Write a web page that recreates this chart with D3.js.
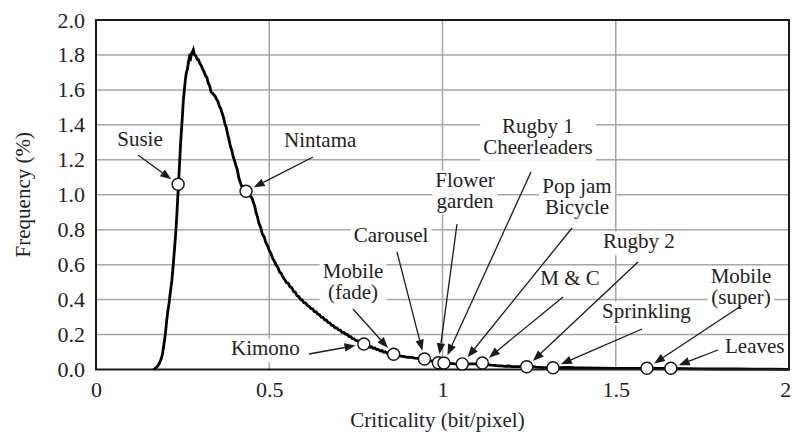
<!DOCTYPE html>
<html>
<head>
<meta charset="utf-8">
<script src="https://cdn.jsdelivr.net/npm/d3@7"></script>
<style>
  html, body { margin: 0; padding: 0; background: #fff; }
  svg { display: block; }
</style>
</head>
<body>
<svg id="chart" width="793" height="436"></svg>
<script>
// Histogram of per-pixel criticality (bit/pixel) versus frequency (%)
const critX = [
  0.166, 0.172, 0.178, 0.183, 0.188, 0.192, 0.195, 0.198, 0.201, 0.204,
  0.207, 0.211, 0.215, 0.219, 0.223, 0.227, 0.230, 0.233, 0.235, 0.237,
  0.238, 0.241, 0.244, 0.247, 0.250, 0.252, 0.255, 0.258, 0.261, 0.264,
  0.267, 0.270, 0.273, 0.276, 0.279, 0.281, 0.284, 0.288, 0.292, 0.296,
  0.300, 0.304, 0.308, 0.312, 0.316, 0.320, 0.324, 0.328, 0.332, 0.336,
  0.340, 0.344, 0.348, 0.352, 0.356, 0.360, 0.364, 0.368, 0.372, 0.376,
  0.380, 0.384, 0.388, 0.392, 0.396, 0.400, 0.404, 0.408, 0.412, 0.416,
  0.420, 0.425, 0.430, 0.434, 0.438, 0.442, 0.446, 0.450, 0.454, 0.458,
  0.462, 0.466, 0.470, 0.475, 0.480, 0.485, 0.490, 0.495, 0.500, 0.505,
  0.510, 0.515, 0.520, 0.525, 0.530, 0.535, 0.540, 0.545, 0.550, 0.555,
  0.560, 0.565, 0.570, 0.575, 0.580, 0.585, 0.590, 0.595, 0.600, 0.605,
  0.610, 0.615, 0.620, 0.625, 0.630, 0.635, 0.640, 0.645, 0.650, 0.655,
  0.660, 0.665, 0.670, 0.675, 0.680, 0.685, 0.690, 0.695, 0.700, 0.705,
  0.710, 0.715, 0.720, 0.725, 0.730, 0.735, 0.740, 0.745, 0.750, 0.755,
  0.760, 0.765, 0.770, 0.775, 0.780, 0.785, 0.790, 0.795, 0.800, 0.805,
  0.810, 0.815, 0.820, 0.825, 0.830, 0.835, 0.840, 0.845, 0.850, 0.855,
  0.860, 0.870, 0.880, 0.890, 0.900, 0.910, 0.920, 0.930, 0.940, 0.950,
  0.960, 0.970, 0.980, 0.990, 1.000, 1.010, 1.020, 1.030, 1.040, 1.050,
  1.060, 1.070, 1.080, 1.090, 1.100, 1.110, 1.120, 1.130, 1.140, 1.150,
  1.160, 1.170, 1.180, 1.190, 1.200, 1.210, 1.220, 1.230, 1.240, 1.250,
  1.260, 1.270, 1.280, 1.290, 1.300, 1.310, 1.320, 1.340, 1.360, 1.380,
  1.400, 1.450, 1.500, 1.550, 1.600, 1.650, 1.700, 1.750, 1.800, 1.850,
  1.900, 1.950, 2.000
];
const freqY = [
  0.000, 0.008, 0.020, 0.035, 0.060, 0.090, 0.130, 0.170, 0.220, 0.280,
  0.330, 0.380, 0.450, 0.510, 0.600, 0.700, 0.780, 0.870, 0.950, 1.020,
  1.060, 1.170, 1.290, 1.380, 1.470, 1.540, 1.600, 1.660, 1.700, 1.720,
  1.760, 1.790, 1.780, 1.810, 1.820, 1.830, 1.800, 1.795, 1.775, 1.772,
  1.750, 1.738, 1.718, 1.703, 1.682, 1.672, 1.638, 1.624, 1.588, 1.582,
  1.572, 1.563, 1.547, 1.533, 1.507, 1.493, 1.466, 1.443, 1.407, 1.384,
  1.346, 1.314, 1.276, 1.254, 1.217, 1.194, 1.166, 1.143, 1.097, 1.074,
  1.050, 1.045, 1.030, 1.020, 1.008, 1.003, 0.990, 0.982, 0.958, 0.935,
  0.897, 0.874, 0.838, 0.815, 0.776, 0.760, 0.727, 0.709, 0.682, 0.664,
  0.636, 0.619, 0.597, 0.584, 0.557, 0.549, 0.527, 0.514, 0.497, 0.493,
  0.472, 0.468, 0.447, 0.443, 0.422, 0.418, 0.402, 0.398, 0.382, 0.380,
  0.367, 0.362, 0.349, 0.347, 0.332, 0.330, 0.317, 0.314, 0.299, 0.298,
  0.284, 0.283, 0.269, 0.266, 0.253, 0.251, 0.238, 0.238, 0.226, 0.225,
  0.213, 0.213, 0.202, 0.201, 0.188, 0.188, 0.176, 0.175, 0.166, 0.164,
  0.156, 0.155, 0.146, 0.147, 0.138, 0.138, 0.129, 0.130, 0.121, 0.123,
  0.114, 0.115, 0.106, 0.108, 0.099, 0.101, 0.093, 0.095, 0.088, 0.090,
  0.085, 0.082, 0.077, 0.074, 0.070, 0.069, 0.065, 0.064, 0.060, 0.058,
  0.052, 0.048, 0.042, 0.041, 0.036, 0.035, 0.034, 0.034, 0.031, 0.032,
  0.031, 0.031, 0.032, 0.032, 0.033, 0.035, 0.032, 0.028, 0.025, 0.024,
  0.021, 0.021, 0.018, 0.020, 0.016, 0.016, 0.016, 0.017, 0.015, 0.015,
  0.017, 0.013, 0.012, 0.011, 0.010, 0.010, 0.010, 0.011, 0.012, 0.010,
  0.009, 0.008, 0.007, 0.007, 0.006, 0.006, 0.005, 0.004, 0.003, 0.003,
  0.002, 0.002, 0.001
];

// Test sequences and where each falls on the distribution
const videoNames = ["Susie", "Nintama", "Kimono", "Mobile (fade)", "Carousel",
  "Flower garden", "Rugby 1 / Cheerleaders", "Pop jam / Bicycle", "M & C",
  "Rugby 2", "Sprinkling", "Mobile (super)", "Leaves"];
const videoCrit = [0.237, 0.433, 0.773, 0.859, 0.948, 0.988, 1.004, 1.057, 1.115, 1.243, 1.319, 1.590, 1.659];
const videoFreq = [1.060, 1.020, 0.146, 0.087, 0.060, 0.039, 0.037, 0.032, 0.037, 0.016, 0.010, 0.007, 0.007];

const xTickValues = [0, 0.5, 1, 1.5, 2];
const xTickLabels = ["0", "0.5", "1", "1.5", "2"];
const yTickValues = [0, 0.2, 0.4, 0.6, 0.8, 1.0, 1.2, 1.4, 1.6, 1.8, 2.0];
const yTickLabels = ["0.0", "0.2", "0.4", "0.6", "0.8", "1.0", "1.2", "1.4", "1.6", "1.8", "2.0"];

const xTitle = "Criticality (bit/pixel)";
const yTitle = "Frequency (%)";

// Annotation layout: text lines, anchor, first baseline and arrow start (px)
const callouts = [
  { lines: ["Susie"], anchor: "middle", tx: 140, ty: 146, ax: 138, ay: 155 },
  { lines: ["Nintama"], anchor: "start", tx: 284, ty: 147, ax: 313, ay: 157 },
  { lines: ["Kimono"], anchor: "start", tx: 231, ty: 355, ax: 309, ay: 354 },
  { lines: ["Mobile", "(fade)"], anchor: "middle", tx: 353, ty: 278, ax: 353, ay: 309 },
  { lines: ["Carousel"], anchor: "middle", tx: 391, ty: 242, ax: 397, ay: 252 },
  { lines: ["Flower", "garden"], anchor: "middle", tx: 465, ty: 187, ax: 457, ay: 224 },
  { lines: ["Rugby 1", "Cheerleaders"], anchor: "middle", tx: 538, ty: 133, ax: 531, ay: 172 },
  { lines: ["Pop jam", "Bicycle"], anchor: "middle", tx: 577, ty: 193, ax: 572, ay: 228 },
  { lines: ["M & C"], anchor: "middle", tx: 570, ty: 285, ax: 563, ay: 297 },
  { lines: ["Rugby 2"], anchor: "start", tx: 603, ty: 248, ax: 638, ay: 262 },
  { lines: ["Sprinkling"], anchor: "start", tx: 602, ty: 318, ax: 642, ay: 329 },
  { lines: ["Mobile", "(super)"], anchor: "middle", tx: 741, ty: 283, ax: 741, ay: 306 },
  { lines: ["Leaves"], anchor: "start", tx: 725, ty: 353, ax: 718, ay: 350 }
];

const W = 793, H = 436;
const plot = { left: 96, right: 789, top: 20, bottom: 369.5 };
const fs = 21, lineGap = 20.7;
const FONT = '"Liberation Serif", "Times New Roman", Times, serif';

const svg = d3.select("#chart").attr("font-family", FONT);
const x = d3.scaleLinear().domain([0, 2]).range([plot.left, plot.right]);
const y = d3.scaleLinear().domain([0, 2]).range([plot.bottom, plot.top]);

function styleText(sel, size) {
  return sel.attr("font-family", FONT).style("font-family", FONT)
    .style("font-size", size + "px").attr("fill", "#222");
}

svg.append("rect").attr("width", W).attr("height", H).attr("fill", "#fff");

// Grid
const grid = svg.append("g").attr("stroke", "#a6a6a6").attr("stroke-width", 1.5);
grid.selectAll("line.h").data(yTickValues.slice(1, -1)).join("line")
  .attr("x1", plot.left).attr("x2", plot.right)
  .attr("y1", d => y(d)).attr("y2", d => y(d));
grid.selectAll("line.v").data(xTickValues.slice(1, -1)).join("line")
  .attr("y1", plot.top).attr("y2", plot.bottom)
  .attr("x1", d => x(d)).attr("x2", d => x(d));

// Axes (labels only; frame drawn separately)
const xAxis = d3.axisBottom(x).tickValues(xTickValues)
  .tickFormat((d, i) => xTickLabels[i]).tickSize(0).tickPadding(12);
const yAxis = d3.axisLeft(y).tickValues(yTickValues)
  .tickFormat((d, i) => yTickLabels[i]).tickSize(0).tickPadding(11);

const gx = svg.append("g").attr("transform", `translate(0,${plot.bottom})`).call(xAxis);
const gy = svg.append("g").attr("transform", `translate(${plot.left},0)`).call(yAxis);
[gx, gy].forEach(g => {
  g.attr("font-family", FONT);
  g.select(".domain").remove();
  styleText(g.selectAll("text"), 22);
});
// keep the last x label inside the canvas
gx.selectAll(".tick").filter(d => d === 2).select("text").attr("text-anchor", "end").attr("dx", "0.08em");

styleText(svg.append("text"), 21).attr("x", (plot.left + plot.right) / 2 - 5).attr("y", 427)
  .attr("text-anchor", "middle").text(xTitle);
styleText(svg.append("text"), 21)
  .attr("transform", `translate(30,${(plot.top + plot.bottom) / 2}) rotate(-90)`)
  .attr("text-anchor", "middle").text(yTitle);

// Callout text on white boxes so the grid does not run through them
const labelG = svg.append("g");
callouts.forEach(c => {
  const g = labelG.append("g");
  const box = g.append("rect").attr("fill", "#fff");
  const t = styleText(g.append("text"), fs).attr("text-anchor", c.anchor);
  c.lines.forEach((ln, i) => t.append("tspan")
    .attr("x", c.tx).attr("y", c.ty + i * lineGap).text(ln));
  const b = t.node().getBBox();
  const yTop = c.ty - fs * 0.78, yBot = c.ty + (c.lines.length - 1) * lineGap + fs * 0.34;
  box.attr("x", b.x - 3).attr("y", yTop).attr("width", b.width + 6).attr("height", yBot - yTop);
});

// Curve
const curveData = critX.map((cx, i) => [cx, freqY[i]]);
svg.append("path").datum(curveData)
  .attr("fill", "none").attr("stroke", "#000").attr("stroke-width", 2.8)
  .attr("stroke-linejoin", "miter")
  .attr("d", d3.line().x(d => x(d[0])).y(d => y(d[1])));

// Frame
svg.append("rect").attr("x", plot.left).attr("y", plot.top)
  .attr("width", plot.right - plot.left).attr("height", plot.bottom - plot.top)
  .attr("fill", "none").attr("stroke", "#1a1a1a").attr("stroke-width", 2);

// Arrows from callouts to the sequence markers
const arrowG = svg.append("g");
callouts.forEach((c, i) => {
  const px = x(videoCrit[i]), py = y(videoFreq[i]);
  const dx = px - c.ax, dy = py - c.ay, len = Math.hypot(dx, dy);
  const ux = dx / len, uy = dy / len;
  const tipX = px - ux * 8.5, tipY = py - uy * 8.5;
  const headL = 11, headW = 4.2;
  const bx = tipX - ux * headL, by = tipY - uy * headL;
  arrowG.append("line").attr("x1", c.ax).attr("y1", c.ay).attr("x2", bx).attr("y2", by)
    .attr("stroke", "#1a1a1a").attr("stroke-width", 1.3);
  arrowG.append("path")
    .attr("d", `M${tipX},${tipY}L${bx - uy * headW},${by + ux * headW}L${bx + uy * headW},${by - ux * headW}Z`)
    .attr("fill", "#1a1a1a");
});

// Markers
svg.append("g").selectAll("circle").data(videoCrit).join("circle")
  .attr("cx", d => x(d)).attr("cy", (d, i) => y(videoFreq[i]))
  .attr("r", 6).attr("fill", "#fff").attr("stroke", "#111").attr("stroke-width", 1.4);
</script>
</body>
</html>
